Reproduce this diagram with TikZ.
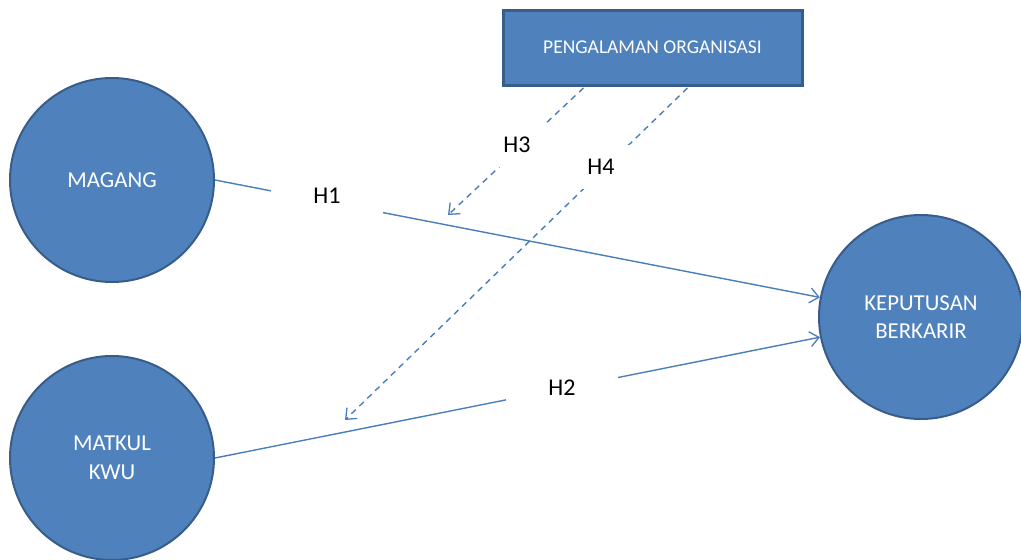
\documentclass[tikz,border=0pt]{standalone}
\usepackage{fontspec}
\setmainfont{Carlito}
\usetikzlibrary{arrows.meta,calc}
\definecolor{ofblue}{HTML}{4F81BD}
\definecolor{ofborder}{HTML}{385D8A}
\definecolor{oline}{HTML}{4A7EBB}
\tikzset{
  varcircle/.style={circle, draw=ofborder, line width=2pt, fill=ofblue, text=white,
    minimum size=204pt, inner sep=0pt, align=center,
    font=\fontsize{22.8}{28.5}\selectfont},
  varbox/.style={rectangle, draw=ofborder, line width=3pt, fill=ofblue, text=white,
    minimum width=299pt, minimum height=75pt, inner sep=0pt,
    font=\fontsize{19.5}{23}\selectfont},
  hlabel/.style={rectangle, fill=white, minimum width=112pt, minimum height=44pt,
    inner sep=0pt, text=black, font=\fontsize{24}{28}\selectfont},
  conn/.style={draw=oline, line width=1.4pt, -{Straight Barb[length=9pt,width=15pt,line width=1.3pt]}},
  dconn/.style={conn, dash pattern=on 6pt off 5pt}
}
\begin{document}
\begin{tikzpicture}[x=1pt,y=-1pt]
\useasboundingbox (0,0) rectangle (1021,560);
\clip (0,0) rectangle (1021,560);
\node[varcircle] (magang) at (112,180) {MAGANG};
\node[varcircle] (matkul) at (112,458) {MATKUL\\KWU};
\node[varcircle] (keputusan) at (921,317) {KEPUTUSAN\\BERKARIR};
\node[varbox] (org) at (652.5,47.5) {PENGALAMAN ORGANISASI};
\coordinate (h3end) at (448,215);
\coordinate (h4end) at (345,420);
\draw[conn] (magang.east) -- (keputusan);
\draw[conn] (matkul.east) -- (keputusan);
\draw[dconn] ([xshift=82pt,yshift=-1.5pt]org.south west) -- (h3end);
\draw[dconn] ([xshift=186pt,yshift=-1.5pt]org.south west) -- (h4end);
\node[hlabel] (h1) at (327,196) {H1};
\node[hlabel] (h2) at (562,388) {H2};
\node[hlabel] (h3) at (517,145) {H3};
\node[hlabel] (h4) at (601,167) {H4};
\end{tikzpicture}
\end{document}
